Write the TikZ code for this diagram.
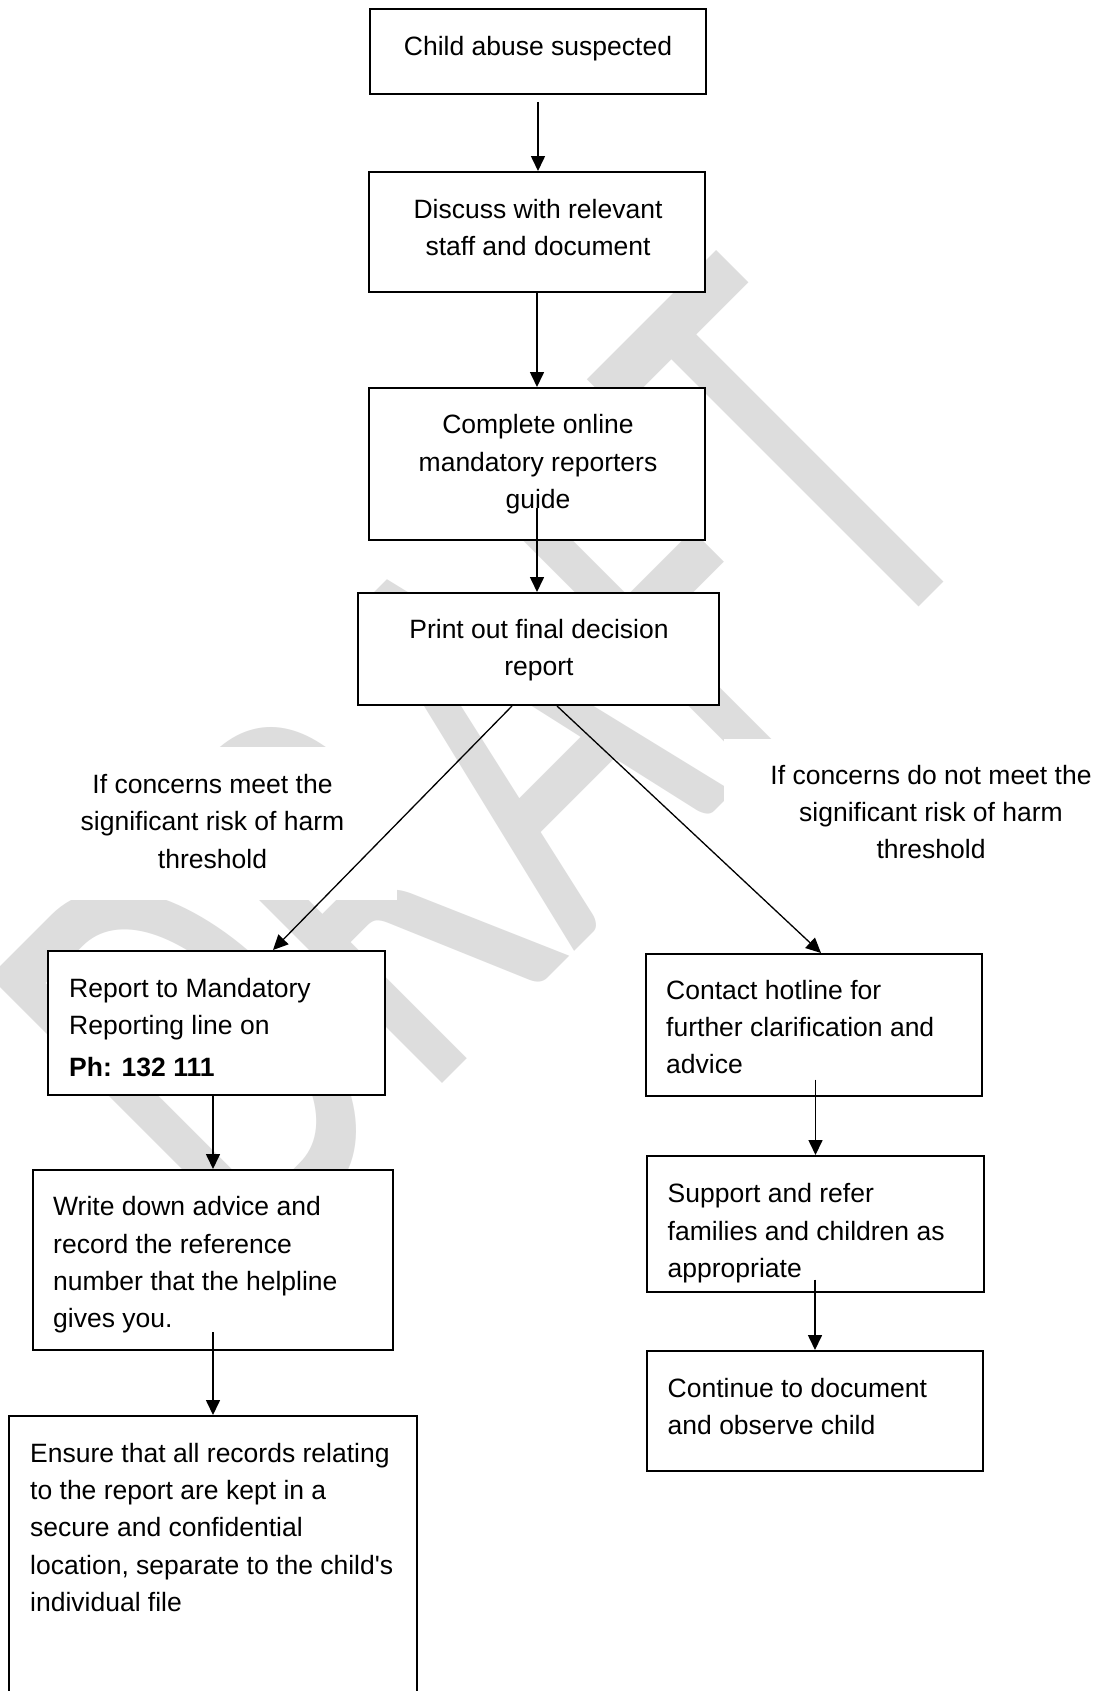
\documentclass[tikz,border=0pt]{standalone}
\usepackage{fontspec}
\setmainfont{Liberation Sans}[Ligatures=TeXOff]
\newfontfamily\wmfont{Carlito}
\usetikzlibrary{arrows.meta,calc}
\definecolor{wm}{RGB}{221,221,221}
\newcommand{\fl}{\rule{0pt}{26pt}}
\begin{document}
\begin{tikzpicture}[x=1pt,y=-1pt,
  box/.style={draw=black, line width=2pt, fill=white, inner sep=0pt},
  txt/.style={inner sep=0pt, font=\fontsize{26.5}{37.3}\selectfont, align=left, anchor=north west},
  ctxt/.style={inner sep=0pt, font=\fontsize{26.5}{37.3}\selectfont, align=center, anchor=north},
  arr/.style={line width=1.6pt, -{Triangle[length=15pt,width=14pt]}},
  darr/.style={line width=1.3pt, -{Triangle[length=15pt,width=14pt]}}]
\path[use as bounding box] (0,0) rectangle (1101,1691);
\clip (0,0) rectangle (1101,1691);
\fill[white] (0,0) rectangle (1101,1691);

% watermark
\begin{scope}[shift={(625,901)}, rotate=45, xscale=0.64, transform shape]
  \node[anchor=base, inner sep=0pt, text=wm, font=\wmfont\fontsize{616}{616}\selectfont] (wmark) {DRAFT};
\end{scope}
\fill[white] (25,747) rectangle (397,900);
\fill[white] (724,739) rectangle (1101,880);

% boxes
\node[box, minimum width=336pt, minimum height=85pt]  (b1) at (538,51.5) {};
\node[box, minimum width=336pt, minimum height=120pt] (b2) at (537,232) {};
\node[box, minimum width=336pt, minimum height=152pt] (b3) at (537,464) {};
\node[box, minimum width=361pt, minimum height=112pt] (b4) at (538.5,649) {};
\node[box, minimum width=337pt, minimum height=144pt] (b5) at (216.5,1023) {};
\node[box, minimum width=360pt, minimum height=180pt] (b6) at (213,1260) {};
\node[box, minimum width=408pt, minimum height=304pt] (b7) at (213,1568) {};
\node[box, minimum width=336pt, minimum height=142pt] (c1) at (814,1025) {};
\node[box, minimum width=337pt, minimum height=136pt] (c2) at (815.5,1224) {};
\node[box, minimum width=336pt, minimum height=120pt] (c3) at (815,1411) {};

% texts
\node[ctxt] (t1) at (538,29.6) {\fl Child abuse suspected};
\node[ctxt] (t2) at (538,192) {\fl Discuss with relevant\\staff and document};
\node[ctxt] (t3) at (538,407.5) {\fl Complete online\\mandatory reporters\\guide};
\node[ctxt] (t4) at (539,612) {\fl Print out final decision\\report};
\node[ctxt] (l1) at (212.5,767.3) {\fl If concerns meet the\\significant risk of harm\\threshold};
\node[ctxt] (l2) at (931,758) {\fl If concerns do not meet the\\significant risk of harm\\threshold};
\node[txt] (t5) at (69,971) {\fl Report to Mandatory\\Reporting line on\\[5pt]\textbf{Ph: 132 111}};
\node[txt] (t6) at (53,1189.7) {\fl Write down advice and\\record the reference\\number that the helpline\\gives you.};
\node[txt] (t7) at (30,1436) {\fl Ensure that all records relating\\to the report are kept in a\\secure and confidential\\location, separate to the child's\\individual file};
\node[txt] (u1) at (666,973) {\fl Contact hotline for\\further clarification and\\advice};
\node[txt] (u2) at (667.5,1176.5) {\fl Support and refer\\families and children as\\appropriate};
\node[txt] (u3) at (667.5,1371) {\fl Continue to document\\and observe child};

% connectors
\draw[arr] ($(b1.south)+(0,7)$) -- (b1.south |- b2.north);
\draw[arr] (b2.south) -- (b3.north);
\draw[arr] ($(b3.south)+(0,-33)$) -- (b3.south |- b4.north);
\draw[darr] ($(b4.south)+(-26.5,0)$) -- ($(b5.north)+(56.5,0)$);
\draw[darr] ($(b4.south)+(18.5,0)$) -- ($(c1.north)+(7,0)$);
\draw[arr] (b5.south -| b6.north) -- (b6.north);
\draw[arr] ($(b6.south)+(0,-19)$) -- (b7.north);
\draw[arr] ($(c1.south -| c2.north)+(0,-17.5)$) -- (c2.north);
\draw[arr] ($(c2.south -| c3.north)+(0,-13.5)$) -- (c3.north);
\end{tikzpicture}
\end{document}
